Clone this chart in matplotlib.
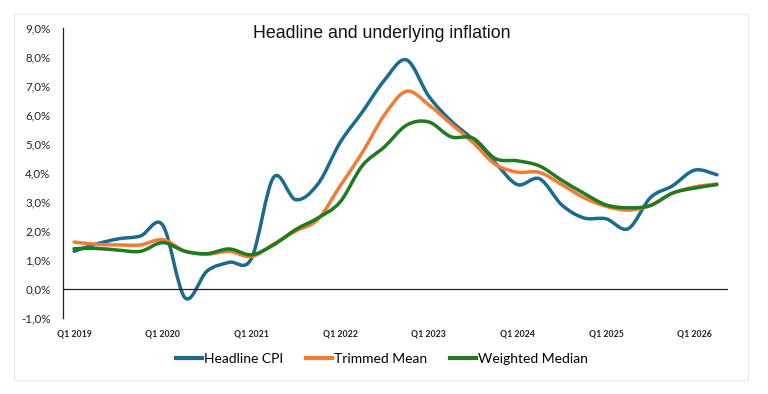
import matplotlib
matplotlib.use("Agg")
import matplotlib.pyplot as plt
import numpy as np
from matplotlib.path import Path
from matplotlib.patches import PathPatch, Rectangle
from matplotlib.lines import Line2D
from matplotlib.ticker import FuncFormatter

# ---- data (quarterly, Q1 2019 .. Q2 2026) ----
quarters = [f"Q{q} {y}" for y in range(2019, 2027) for q in range(1, 5)][:30]
headline = [1.30, 1.55, 1.73, 1.83, 2.20, -0.30, 0.62, 0.92, 1.05, 3.85,
            3.08, 3.62, 5.05, 6.10, 7.20, 7.90, 6.65, 5.80, 5.15, 4.35,
            3.60, 3.80, 2.90, 2.45, 2.42, 2.08, 3.15, 3.56, 4.10, 3.94]
trimmed = [1.62, 1.54, 1.52, 1.52, 1.70, 1.31, 1.20, 1.30, 1.12, 1.55,
           2.00, 2.40, 3.55, 4.70, 6.00, 6.82, 6.35, 5.70, 5.05, 4.30,
           4.03, 4.02, 3.60, 3.15, 2.85, 2.72, 2.88, 3.30, 3.52, 3.62]
weighted = [1.39, 1.40, 1.34, 1.30, 1.60, 1.30, 1.22, 1.38, 1.18, 1.52,
            2.05, 2.45, 3.00, 4.25, 4.90, 5.65, 5.76, 5.25, 5.20, 4.50,
            4.42, 4.24, 3.75, 3.30, 2.90, 2.80, 2.88, 3.31, 3.48, 3.60]
series_names = ["Headline CPI", "Trimmed Mean", "Weighted Median"]
colors = ["#1b6a90", "#ef7d35", "#1f7a22"]
yticks = list(range(-1, 10))
xtick_labels = ["Q1 2019", "Q1 2020", "Q1 2021", "Q1 2022", "Q1 2023",
                "Q1 2024", "Q1 2025", "Q1 2026"]

W, H = 768, 394
fig = plt.figure(figsize=(W / 100, H / 100), dpi=100)
fig.patches.append(Rectangle((14 / W, 1 - 380 / H), (748 - 14) / W, (380 - 14) / H,
                             transform=fig.transFigure, fill=False,
                             edgecolor="#e8e8e8", lw=0.8))

ax = fig.add_axes([63 / W, 1 - 318 / H, (728 - 63) / W, (318 - 28) / H])
ax.set_xlim(-0.5, len(quarters) - 0.5)
ax.set_ylim(-1, 9)


def smooth_path(xs, ys):
    pts = np.column_stack([xs, ys]).astype(float)
    n = len(pts)
    verts = [pts[0]]
    codes = [Path.MOVETO]
    for i in range(n - 1):
        p0 = pts[i - 1] if i > 0 else pts[i]
        p1 = pts[i]
        p2 = pts[i + 1]
        p3 = pts[i + 2] if i + 2 < n else pts[i + 1]
        c1 = p1 + (p2 - p0) / 6.0
        c2 = p2 - (p3 - p1) / 6.0
        verts += [c1, c2, p2]
        codes += [Path.CURVE4] * 3
    return Path(verts, codes)


x = np.arange(len(quarters))
for vals, c in zip([headline, trimmed, weighted], colors):
    ax.add_patch(PathPatch(smooth_path(x, vals), fill=False, edgecolor=c,
                           lw=2.5, capstyle="round", joinstyle="round"))

for s in ["top", "right", "bottom"]:
    ax.spines[s].set_visible(False)
ax.spines["left"].set_color("#222222")
ax.spines["left"].set_linewidth(0.9)
ax.axhline(0, color="#222222", lw=0.9)

ax.set_yticks(yticks)
ax.yaxis.set_major_formatter(FuncFormatter(lambda v, p: f"{v:.1f}".replace(".", ",") + "%"))
ax.set_xticks(x[::4])
ax.set_xticklabels(xtick_labels)
ax.tick_params(axis="y", length=0, pad=9, labelsize=8.3, labelcolor="#222222")
ax.tick_params(axis="x", length=0, pad=8, labelsize=6.3, labelcolor="#222222")
for lab in ax.get_yticklabels():
    lab.set_fontfamily("Lato")
for lab in ax.get_xticklabels():
    lab.set_fontfamily("Lato")
    lab.set_fontweight("bold")

fig.text(382 / W, 1 - 33 / H, "Headline and underlying inflation",
         ha="center", va="center", fontsize=12.8, family="Liberation Sans",
         color="#111111")

handles = [Line2D([], [], color=c, lw=3) for c in colors]
leg = fig.legend(handles, series_names, loc="center", bbox_to_anchor=(382 / W, 1 - 359 / H),
                 ncol=3, frameon=False, prop={"family": "Lato", "size": 10},
                 handlelength=1.9, handletextpad=0.15, columnspacing=1.6)

fig.savefig("out.png", dpi=100)
